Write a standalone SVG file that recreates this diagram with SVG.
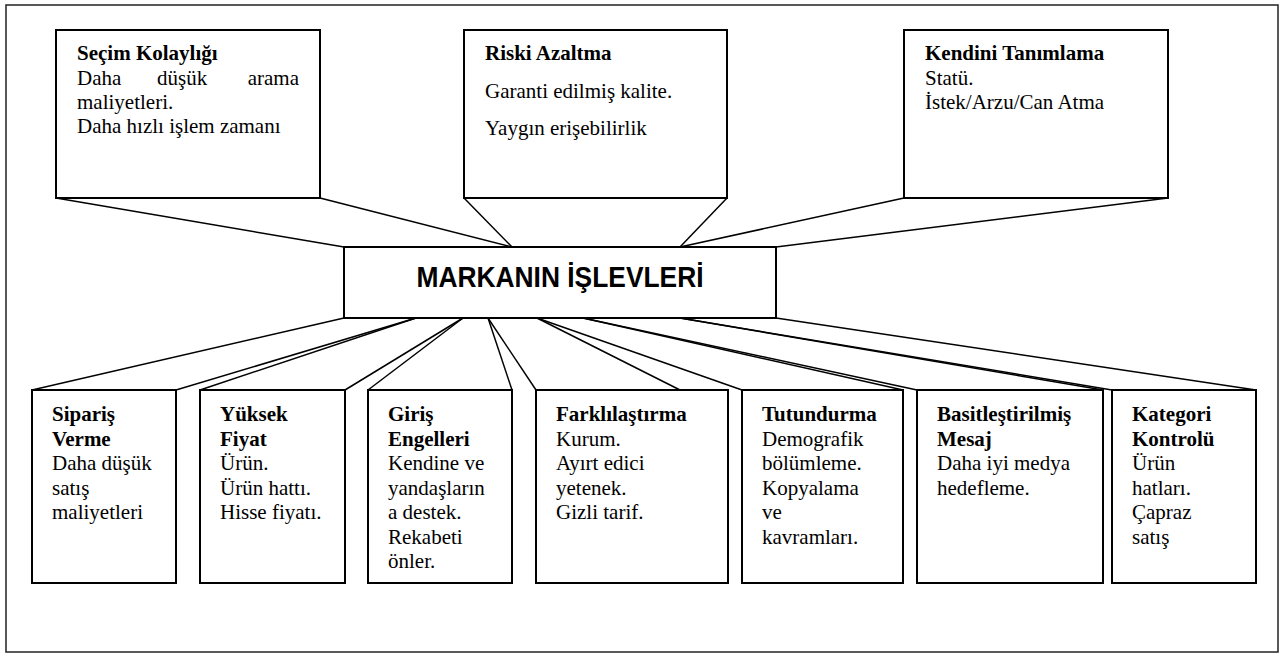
<svg xmlns="http://www.w3.org/2000/svg" width="1287" height="655" viewBox="0 0 1287 655">
<style>
.frame{fill:#fff;stroke:#222;stroke-width:1.5}
.box{fill:#fff;stroke:#000;stroke-width:2}
.conn line{stroke:#000;stroke-width:1.5}
.t{font-family:"Liberation Serif","Times New Roman",serif;font-size:21px;fill:#000}
.b{font-weight:bold}
.main{font-family:"Liberation Sans",Arial,sans-serif;font-weight:bold;font-size:29px;fill:#000}
</style>
<rect class="frame" x="6" y="5" width="1272" height="647"/>
<g id="connectors" class="conn">
<line x1="56" y1="198" x2="344" y2="247"/>
<line x1="320" y1="198" x2="512" y2="247"/>
<line x1="464" y1="198" x2="512" y2="247"/>
<line x1="727" y1="198" x2="680" y2="247"/>
<line x1="904" y1="198" x2="680" y2="247"/>
<line x1="1168" y1="198" x2="776" y2="247"/>
<line x1="32" y1="390" x2="344" y2="318"/>
<line x1="176" y1="390" x2="416" y2="318"/>
<line x1="200" y1="390" x2="416" y2="318"/>
<line x1="345" y1="390" x2="463" y2="318"/>
<line x1="368" y1="390" x2="463" y2="318"/>
<line x1="512" y1="390" x2="488" y2="318"/>
<line x1="536" y1="390" x2="488" y2="318"/>
<line x1="680" y1="390" x2="537" y2="318"/>
<line x1="742" y1="390" x2="537" y2="318"/>
<line x1="903" y1="390" x2="583" y2="318"/>
<line x1="917" y1="390" x2="583" y2="318"/>
<line x1="1103" y1="390" x2="680" y2="318"/>
<line x1="1112" y1="390" x2="680" y2="318"/>
<line x1="1256" y1="390" x2="776" y2="318"/>
</g>
<g id="center">
<rect class="box" x="344" y="247" width="432" height="71"/>
<text class="main" x="560" y="287" text-anchor="middle" textLength="287" lengthAdjust="spacingAndGlyphs">MARKANIN İŞLEVLERİ</text>
</g>
<g id="secim">
<rect class="box" x="56" y="30" width="264" height="168"/>
<text class="t b" x="77" y="60">Seçim Kolaylığı</text>
<text class="t" x="77" y="84.5">Daha</text>
<text class="t" x="157" y="84.5">düşük</text>
<text class="t" x="299" y="84.5" text-anchor="end">arama</text>
<text class="t" x="77" y="109">maliyetleri.</text>
<text class="t" x="77" y="133">Daha hızlı işlem zamanı</text>
</g>
<g id="risk">
<rect class="box" x="464" y="30" width="263" height="168"/>
<text class="t b" x="485" y="60">Riski Azaltma</text>
<text class="t" x="485" y="98">Garanti edilmiş kalite.</text>
<text class="t" x="485" y="135">Yaygın erişebilirlik</text>
</g>
<g id="kendini">
<rect class="box" x="904" y="30" width="264" height="168"/>
<text class="t b" x="925" y="60">Kendini Tanımlama</text>
<text class="t" x="925" y="84.5">Statü.</text>
<text class="t" x="925" y="109">İstek/Arzu/Can Atma</text>
</g>
<g id="siparis">
<rect class="box" x="32" y="390" width="144" height="193"/>
<text class="t b" x="52" y="421">Sipariş</text>
<text class="t b" x="52" y="445.5">Verme</text>
<text class="t" x="52" y="470">Daha düşük</text>
<text class="t" x="52" y="494.5">satış</text>
<text class="t" x="52" y="519">maliyetleri</text>
</g>
<g id="yuksek">
<rect class="box" x="200" y="390" width="145" height="193"/>
<text class="t b" x="220" y="421">Yüksek</text>
<text class="t b" x="220" y="445.5">Fiyat</text>
<text class="t" x="220" y="470">Ürün.</text>
<text class="t" x="220" y="494.5">Ürün hattı.</text>
<text class="t" x="220" y="519">Hisse fiyatı.</text>
</g>
<g id="giris">
<rect class="box" x="368" y="390" width="144" height="193"/>
<text class="t b" x="388" y="421">Giriş</text>
<text class="t b" x="388" y="445.5">Engelleri</text>
<text class="t" x="388" y="470">Kendine ve</text>
<text class="t" x="388" y="494.5">yandaşların</text>
<text class="t" x="388" y="519">a destek.</text>
<text class="t" x="388" y="543.5">Rekabeti</text>
<text class="t" x="388" y="568">önler.</text>
</g>
<g id="farklilastirma">
<rect class="box" x="536" y="390" width="192" height="193"/>
<text class="t b" x="556" y="421">Farklılaştırma</text>
<text class="t" x="556" y="445.5">Kurum.</text>
<text class="t" x="556" y="470">Ayırt edici</text>
<text class="t" x="556" y="494.5">yetenek.</text>
<text class="t" x="556" y="519">Gizli tarif.</text>
</g>
<g id="tutundurma">
<rect class="box" x="742" y="390" width="161" height="193"/>
<text class="t b" x="762" y="421">Tutundurma</text>
<text class="t" x="762" y="445.5">Demografik</text>
<text class="t" x="762" y="470">bölümleme.</text>
<text class="t" x="762" y="494.5">Kopyalama</text>
<text class="t" x="762" y="519">ve</text>
<text class="t" x="762" y="543.5">kavramları.</text>
</g>
<g id="basitlestirilmis">
<rect class="box" x="917" y="390" width="186" height="193"/>
<text class="t b" x="937" y="421">Basitleştirilmiş</text>
<text class="t b" x="937" y="445.5">Mesaj</text>
<text class="t" x="937" y="470">Daha iyi medya</text>
<text class="t" x="937" y="494.5">hedefleme.</text>
</g>
<g id="kategori">
<rect class="box" x="1112" y="390" width="144" height="193"/>
<text class="t b" x="1132" y="421">Kategori</text>
<text class="t b" x="1132" y="445.5">Kontrolü</text>
<text class="t" x="1132" y="470">Ürün</text>
<text class="t" x="1132" y="494.5">hatları.</text>
<text class="t" x="1132" y="519">Çapraz</text>
<text class="t" x="1132" y="543.5">satış</text>
</g>
</svg>
